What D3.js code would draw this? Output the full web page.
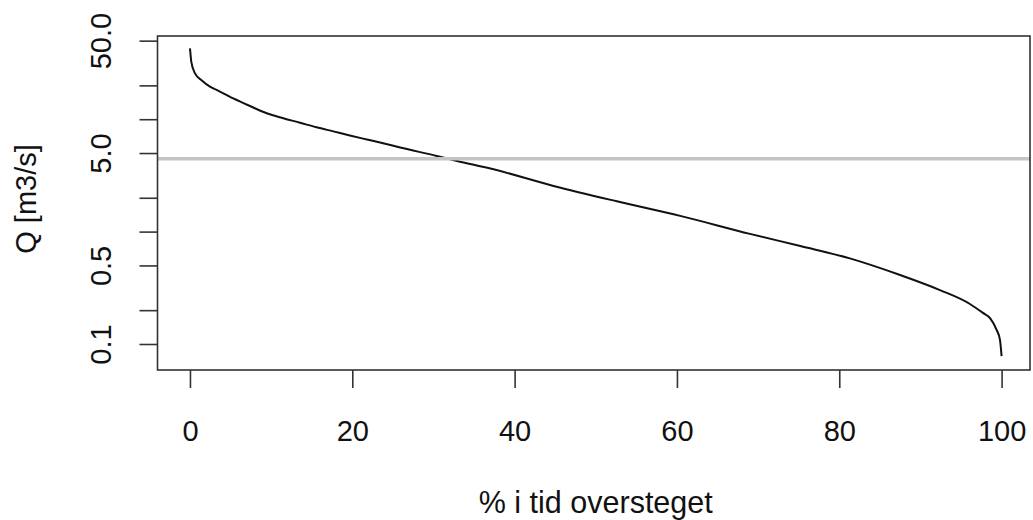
<!DOCTYPE html>
<html>
<head>
<meta charset="utf-8">
<script src="https://cdn.jsdelivr.net/npm/d3@7"></script>
<style>
  html, body { margin: 0; padding: 0; background: #ffffff; }
  svg { display: block; }
  text { font-family: "Liberation Sans", Arial, sans-serif; fill: #111; }
</style>
</head>
<body>
<svg id="chart" width="1033" height="520"></svg>
<script>
// ---- data ----
const exceedPct = [0, 0.08, 0.16, 0.62, 1.5, 2.46, 3.29, 5.34, 7.39, 9.45, 11.5, 13.55, 15.6, 17.66, 19.7, 21.8, 23.8, 25.9, 30.4, 32.9, 36.9, 44.8, 52.6, 60.4, 69.0, 75.2, 81.3, 87.5, 92.4, 96.1, 97.7, 98.6, 99.4, 99.8, 100];
const flowQ = [42.7, 37.0, 32.5, 25.6, 22.0, 19.5, 18.2, 15.3, 13.1, 11.3, 10.2, 9.31, 8.47, 7.79, 7.16, 6.60, 6.11, 5.60, 4.71, 4.25, 3.66, 2.55, 1.86, 1.38, 0.955, 0.745, 0.578, 0.411, 0.302, 0.227, 0.189, 0.169, 0.133, 0.109, 0.078];
const refFlow = 4.45;
const xTickValues = [0, 20, 40, 60, 80, 100];
const yTickValues = [0.1, 0.2, 0.5, 1, 2, 5, 10, 20, 50];
const yTickLabels = {0.1: "0.1", 0.5: "0.5", 5: "5.0", 50: "50.0"};
const xDomain = [-4, 103.5];
const yDomain = [0.0587, 55];
const xTitle = "% i tid oversteget";
const yTitle = "Q [m3/s]";

// ---- layout ----
const plot = { left: 157.5, right: 1030, top: 36, bottom: 370 };
const svg = d3.select("#chart");

const x = d3.scaleLinear().domain(xDomain).range([plot.left, plot.right]);
const y = d3.scaleLog().domain(yDomain).range([plot.bottom, plot.top]);

const data = exceedPct.map((p, i) => ({ p, q: flowQ[i] }));

// curve
svg.append("path")
  .datum(data)
  .attr("fill", "none")
  .attr("stroke", "#111")
  .attr("stroke-width", 2)
  .attr("stroke-linejoin", "round")
  .attr("d", d3.line().curve(d3.curveMonotoneX).x(d => x(d.p)).y(d => y(d.q)));

// reference line (drawn above the curve)
svg.append("line")
  .attr("x1", plot.left).attr("x2", plot.right)
  .attr("y1", y(refFlow)).attr("y2", y(refFlow))
  .attr("stroke", "#c4c4c4")
  .attr("stroke-width", 3.4);

// box
svg.append("rect")
  .attr("x", plot.left).attr("y", plot.top)
  .attr("width", plot.right - plot.left)
  .attr("height", plot.bottom - plot.top)
  .attr("fill", "none")
  .attr("stroke", "#333")
  .attr("stroke-width", 1.6);

// x axis
const xAxis = svg.append("g")
  .attr("transform", `translate(0,${plot.bottom})`)
  .call(d3.axisBottom(x).tickValues(xTickValues).tickSize(18).tickPadding(0).tickFormat(d3.format("d")));
xAxis.select(".domain").remove();
xAxis.selectAll(".tick line").attr("stroke", "#333").attr("stroke-width", 1.6);
xAxis.selectAll(".tick text")
  .attr("y", 71).attr("dy", null)
  .attr("font-size", 29)
  .attr("fill", "#111")
  .attr("font-family", "Liberation Sans, Arial, sans-serif");

// y axis
const yAxis = svg.append("g")
  .attr("transform", `translate(${plot.left},0)`)
  .call(d3.axisLeft(y).tickValues(yTickValues).tickSize(18).tickFormat(d => yTickLabels[d] || ""));
yAxis.select(".domain").remove();
yAxis.selectAll(".tick line").attr("stroke", "#333").attr("stroke-width", 1.6);
yAxis.selectAll(".tick text")
  .attr("x", null).attr("dy", null)
  .attr("text-anchor", "middle")
  .attr("transform", "translate(-47,0) rotate(-90)")
  .attr("font-size", 29)
  .attr("fill", "#111")
  .attr("font-family", "Liberation Sans, Arial, sans-serif");

// titles
svg.append("text")
  .attr("x", (plot.left + plot.right) / 2 + 2)
  .attr("y", 513)
  .attr("text-anchor", "middle")
  .attr("font-size", 30.5)
  .text(xTitle);

svg.append("text")
  .attr("transform", `translate(36,${(plot.top + plot.bottom) / 2 - 4}) rotate(-90)`)
  .attr("text-anchor", "middle")
  .attr("font-size", 29)
  .text(yTitle);
</script>
</body>
</html>
